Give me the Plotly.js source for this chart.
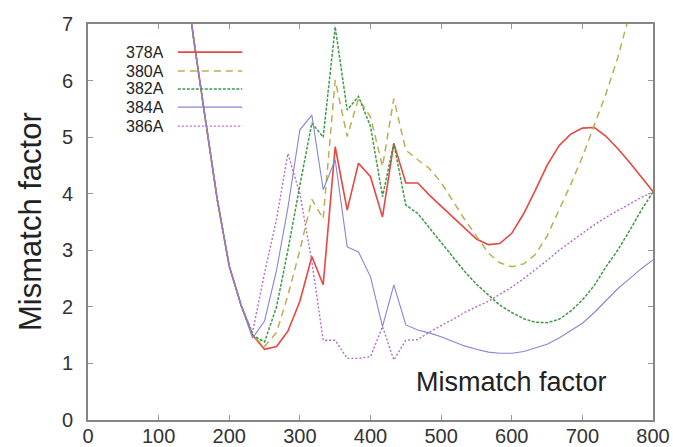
<!DOCTYPE html>
<html>
<head>
<meta charset="utf-8">
<script src="https://cdn.plot.ly/plotly-3.0.1.min.js"></script>
<style>html,body{margin:0;padding:0;background:#fff;}#chart{width:673px;height:447px;}</style>
</head>
<body>
<div id="chart"></div>
<script>
// ---- data ----
var xs = [133,150,167,183,200,217,233,250,267,283,300,317,333,350,367,383,400,417,433,450,467,
          483,500,517,533,550,567,583,600,617,633,650,667,683,700,717,733,750,767,783,800];

var s378A = [8.3,6.7,5.25,3.9,2.72,2.02,1.5,1.25,1.3,1.57,2.1,2.89,2.39,4.83,3.71,4.54,4.30,3.59,4.89,4.19,4.19,
             3.98,3.78,3.58,3.40,3.2,3.1,3.12,3.3,3.65,4.05,4.5,4.85,5.05,5.16,5.17,5.02,4.8,4.55,4.3,4.04];
var s380A = [8.3,6.7,5.25,3.9,2.72,2.02,1.5,1.3,1.55,2.2,3.0,3.9,3.56,6.01,5.01,5.68,5.36,4.48,5.68,4.77,4.6,
             4.45,4.2,3.87,3.55,3.25,2.95,2.78,2.71,2.76,2.92,3.25,3.7,4.15,4.65,5.22,5.75,6.4,7.15,7.9,8.7];
var s382A = [8.3,6.7,5.25,3.9,2.72,2.02,1.5,1.38,2.0,3.0,4.15,5.25,5.0,6.95,5.48,5.72,5.19,3.95,4.89,3.80,3.65,
             3.4,3.15,2.88,2.63,2.4,2.2,2.03,1.9,1.79,1.73,1.72,1.78,1.92,2.12,2.38,2.7,3.0,3.35,3.7,4.03];
var s384A = [8.3,6.7,5.25,3.9,2.72,2.02,1.45,1.75,2.65,3.75,5.13,5.39,4.07,4.6,3.06,2.97,2.53,1.65,2.39,1.68,1.59,
             1.54,1.47,1.39,1.31,1.25,1.2,1.18,1.18,1.21,1.27,1.34,1.45,1.57,1.71,1.9,2.1,2.32,2.5,2.67,2.83];
var s386A = [8.3,6.7,5.25,3.9,2.72,2.02,1.55,2.6,3.55,4.71,4.0,2.8,1.41,1.41,1.09,1.09,1.12,1.65,1.06,1.41,1.42,
             1.55,1.67,1.78,1.9,2.0,2.1,2.22,2.35,2.5,2.65,2.82,3.0,3.15,3.3,3.45,3.58,3.7,3.82,3.93,4.03];

var seriesNames = ['378A','380A','382A','384A','386A'];
var xTicks = [0,100,200,300,400,500,600,700,800];
var yTicks = [0,1,2,3,4,5,6,7];
var axisLabel = 'Mismatch factor';

// ---- styles ----
var values = [s378A, s380A, s382A, s384A, s386A];
var colors = ['#e8463e', '#bcae52', '#3f9a48', '#8686d6', '#b46cc8'];
var dashes = ['solid', '7px,5px', '3px,1.5px', 'solid', '2px,2px'];
var widths = [1.6, 1.5, 1.5, 1.1, 1.4];

var traces = values.map(function (v, i) {
  return {
    x: xs, y: v, type: 'scatter', mode: 'lines', name: seriesNames[i],
    line: {color: colors[i], dash: dashes[i], width: widths[i]},
    showlegend: false, hoverinfo: 'skip'
  };
});

// custom gnuplot-like key: text on the left, sample line on the right
var shapes = [], annotations = [];
var keyRows = [0.929, 0.881, 0.836, 0.790, 0.742];
seriesNames.forEach(function (n, i) {
  shapes.push({type: 'line', xref: 'paper', yref: 'paper', x0: 0.159, x1: 0.273,
               y0: keyRows[i], y1: keyRows[i],
               line: {color: colors[i], dash: dashes[i], width: widths[i]}});
  annotations.push({xref: 'paper', yref: 'paper', x: 0.136, y: keyRows[i], xanchor: 'right', yanchor: 'middle',
                    text: n, showarrow: false, height: 17, borderpad: 0,
                    font: {family: 'Liberation Sans, Arial, sans-serif', size: 16, color: '#222'}});
});
annotations.push({xref: 'paper', yref: 'paper', x: 0.749, y: 0.096, xanchor: 'center', yanchor: 'middle',
                  text: axisLabel, showarrow: false,
                  font: {family: 'Liberation Sans, Arial, sans-serif', size: 27, color: '#222'}});
annotations.push({xref: 'paper', yref: 'paper', x: -0.1027, y: 0.5025, xanchor: 'center', yanchor: 'middle',
                  text: axisLabel, textangle: -90, showarrow: false,
                  font: {family: 'Liberation Sans, Arial, sans-serif', size: 31, color: '#222'}});

var axisCommon = {
  showline: true, linecolor: '#858585', linewidth: 2, mirror: 'ticks',
  ticks: 'inside', ticklen: 5, tickwidth: 1, tickcolor: '#9a9a9a',
  showgrid: false, zeroline: false,
  tickfont: {family: 'Liberation Sans, Arial, sans-serif', size: 20, color: '#333'}
};

var layout = {
  width: 673, height: 447,
  margin: {l: 88, r: 20, t: 24, b: 27, pad: 0},
  paper_bgcolor: '#fff', plot_bgcolor: '#fff',
  xaxis: Object.assign({}, axisCommon, {range: [0, 800], tickvals: xTicks, ticktext: xTicks.map(String), ticklabelstandoff: -3}),
  yaxis: Object.assign({}, axisCommon, {range: [0, 7], tickvals: yTicks, ticktext: yTicks.map(String), ticklabelstandoff: 9}),
  shapes: shapes,
  annotations: annotations,
  showlegend: false
};

Plotly.newPlot('chart', traces, layout, {staticPlot: true, displayModeBar: false});
</script>
</body>
</html>
